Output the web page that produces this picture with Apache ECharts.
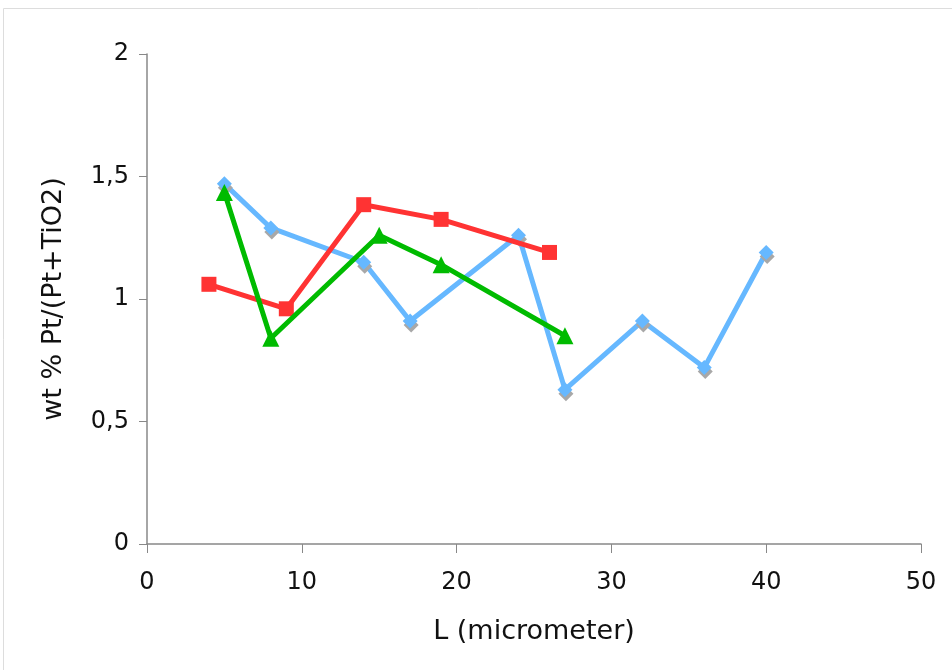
<!DOCTYPE html>
<html>
<head>
<meta charset="utf-8">
<script src="https://cdn.jsdelivr.net/npm/echarts@6/dist/echarts.min.js"></script>
<style>
  html, body { margin: 0; padding: 0; background: #fff; }
  #chart { width: 952px; height: 670px; }
</style>
</head>
<body>
<div id="chart"></div>
<script>
// series values: [L, wt%]
const blueData = [[5, 1.47], [8, 1.29], [14, 1.15], [17, 0.91], [24, 1.26], [27, 0.63], [32, 0.91], [36, 0.72], [40, 1.19]];
const redData = [[4, 1.06], [9, 0.96], [14, 1.385], [19, 1.325], [26, 1.19]];
const greenData = [[5, 1.435], [8, 0.84], [15, 1.26], [19, 1.14], [27, 0.85]];

const xName = 'L (micrometer)';
const yName = 'wt % Pt/(Pt+TiO2)';

const chart = echarts.init(document.getElementById('chart'));
const font = 'DejaVu Sans, Verdana, sans-serif';

chart.setOption({
  animation: false,
  graphic: [{
    type: 'rect',
    shape: { x: 3.5, y: 8.5, width: 960, height: 700 },
    style: { fill: 'none', stroke: '#dddddd', lineWidth: 1 },
    silent: true
  }],
  grid: { left: 147, right: 31, top: 54, bottom: 126 },
  xAxis: {
    type: 'value', min: 0, max: 50, interval: 10,
    name: xName, nameLocation: 'middle', nameGap: 74,
    nameTextStyle: { fontFamily: font, fontSize: 27, color: '#111' },
    axisLine: { lineStyle: { color: '#888', width: 1.5 } },
    axisTick: { show: true, length: 9, lineStyle: { color: '#888' } },
    axisLabel: { fontFamily: font, fontSize: 24, color: '#111', margin: 27 },
    splitLine: { show: false }
  },
  yAxis: {
    type: 'value', min: 0, max: 2, interval: 0.5,
    name: yName, nameLocation: 'middle', nameGap: 80, nameRotate: 90,
    nameTextStyle: { fontFamily: font, fontSize: 27, color: '#111' },
    axisLine: { show: true, lineStyle: { color: '#888', width: 1.5 } },
    axisTick: { show: true, length: 8, lineStyle: { color: '#888' } },
    axisLabel: {
      fontFamily: font, fontSize: 24, color: '#111', margin: 18,
      formatter: v => String(v).replace('.', ',')
    },
    splitLine: { show: false }
  },
  series: [
    {
      type: 'line', data: blueData,
      symbol: 'diamond', symbolSize: 15,
      lineStyle: { color: '#66b8ff', width: 5 },
      itemStyle: { color: '#66b8ff', shadowColor: '#a8a8a8', shadowOffsetX: 1, shadowOffsetY: 4, shadowBlur: 0 },
      z: 2
    },
    {
      type: 'line', data: redData,
      symbol: 'rect', symbolSize: 15,
      lineStyle: { color: '#ff3333', width: 5 },
      itemStyle: { color: '#ff3333' },
      z: 3
    },
    {
      type: 'line', data: greenData,
      symbol: 'triangle', symbolSize: 17,
      lineStyle: { color: '#00bb00', width: 5 },
      itemStyle: { color: '#00bb00' },
      z: 4
    }
  ]
});
</script>
</body>
</html>
